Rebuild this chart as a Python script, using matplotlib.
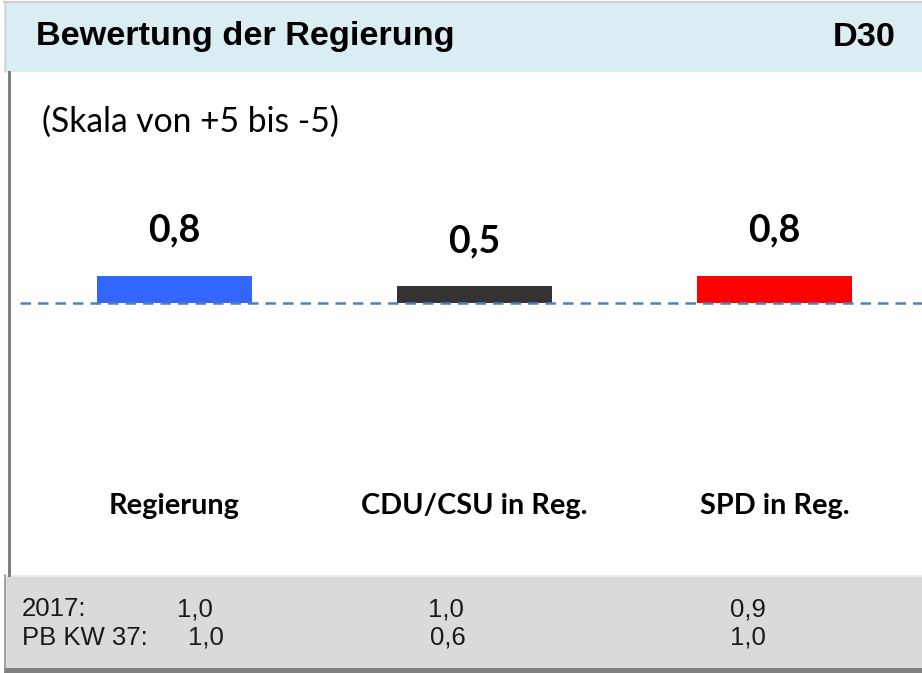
import matplotlib
matplotlib.use("Agg")
import matplotlib.pyplot as plt
from matplotlib.patches import Rectangle
from matplotlib.lines import Line2D
import matplotlib.transforms as mtransforms

# ---- data ----
categories = ["Regierung", "CDU/CSU in Reg.", "SPD in Reg."]
values = [0.8, 0.5, 0.8]
bar_colors = ["#3366FF", "#333333", "#FF0000"]
row_labels = ["2017:", "PB KW 37:"]
values_2017 = [1.0, 1.0, 0.9]
values_pbkw37 = [1.0, 0.6, 1.0]
title = "Bewertung der Regierung"
code = "D30"
subtitle = "(Skala von +5 bis -5)"

W, H = 922, 673
fig = plt.figure(figsize=(W / 100, H / 100), dpi=100)
fig.patch.set_facecolor("white")


def fx(px):
    return px / W


def fy(py):
    return 1 - py / H


def fmt(v):
    return f"{v:.1f}".replace(".", ",")


# header band
fig.patches.append(Rectangle((fx(4), fy(72)), fx(918), (72 - 3) / H,
                             transform=fig.transFigure, facecolor="#DAEDF3",
                             edgecolor="none", zorder=0))
fig.lines.append(Line2D([fx(4), fx(922)], [fy(2), fy(2)], transform=fig.transFigure,
                        color="#D0D0D0", lw=1.5))
# footer band
fig.patches.append(Rectangle((fx(4), fy(668)), fx(918), (668 - 575) / H,
                             transform=fig.transFigure, facecolor="#DADADA",
                             edgecolor="none", zorder=0))
fig.lines.append(Line2D([fx(4), fx(922)], [fy(575.5), fy(575.5)], transform=fig.transFigure,
                        color="#EFEFEF", lw=1.2))
fig.patches.append(Rectangle((fx(4), fy(673)), fx(918), 5 / H,
                             transform=fig.transFigure, facecolor="#7F7F7F",
                             edgecolor="none", zorder=0))
# left borders
fig.lines.append(Line2D([fx(8.5), fx(8.5)], [fy(72), fy(575)], transform=fig.transFigure,
                        color="#7F7F7F", lw=2.2))
fig.lines.append(Line2D([fx(4.5), fx(4.5)], [fy(575), fy(670)], transform=fig.transFigure,
                        color="#9A9A9A", lw=1.2))
fig.lines.append(Line2D([fx(4.5), fx(4.5)], [fy(3), fy(72)], transform=fig.transFigure,
                        color="#D0D0D0", lw=1.0))

# title texts
fig.text(fx(36), fy(37), title, fontsize=24.7, fontweight="bold",
         family="Liberation Sans", va="center", ha="left", color="black")
fig.text(fx(896), fy(37), code, fontsize=24.7, fontweight="bold",
         family="Liberation Sans", va="center", ha="right", color="black")
fig.text(fx(42), fy(132), subtitle, fontsize=24.2, family="Lato",
         va="baseline", ha="left", color="black")

# chart axes: x-categories at pixel 174.5 + 300*i ; y zero at pixel 303.5
ax = fig.add_axes([0, fy(575), 1, (575 - 72) / H])
ax.patch.set_alpha(0)
ppu_x = 300.0
ppu_y = 34.4
ax.set_xlim(-174.5 / ppu_x, (W - 174.5) / ppu_x)
ax.set_ylim(-(575 - 303.5) / ppu_y, (303.5 - 72) / ppu_y)
ax.axis("off")

x = list(range(len(categories)))
ax.bar(x, values, width=154.5 / ppu_x, color=bar_colors, zorder=2)
ax.axhline(0, xmin=20 / W, xmax=1, color="#4F81BD", lw=1.8,
           linestyle=(0, (4.2, 2.8)), zorder=3)

for xi, v in zip(x, values):
    ax.annotate(fmt(v), (xi, v), xytext=(0, 34), textcoords="offset pixels",
                ha="center", va="baseline", fontsize=27, fontweight="bold",
                family="Lato", color="black")

trans = mtransforms.blended_transform_factory(ax.transData, fig.transFigure)
for xi, c in zip(x, categories):
    ax.text(xi, fy(514), c, transform=trans, ha="center", va="baseline",
            fontsize=20.8, fontweight="bold", family="Lato", color="black")

# footer texts
fs_footer = 18.5
fig.text(fx(22), fy(616), row_labels[0], fontsize=fs_footer, family="Liberation Sans",
         va="baseline", ha="left", color="#1A1A1A")
fig.text(fx(22), fy(645), row_labels[1], fontsize=fs_footer, family="Liberation Sans",
         va="baseline", ha="left", color="#1A1A1A")
row1_x = [177, 428, 730]
row2_x = [188, 430, 730]
for px, v in zip(row1_x, values_2017):
    fig.text(fx(px), fy(616), fmt(v), fontsize=fs_footer, family="Liberation Sans",
             va="baseline", ha="left", color="#1A1A1A")
for px, v in zip(row2_x, values_pbkw37):
    fig.text(fx(px), fy(645), fmt(v), fontsize=fs_footer, family="Liberation Sans",
             va="baseline", ha="left", color="#1A1A1A")

fig.savefig("out.png", dpi=100, facecolor=fig.get_facecolor())
